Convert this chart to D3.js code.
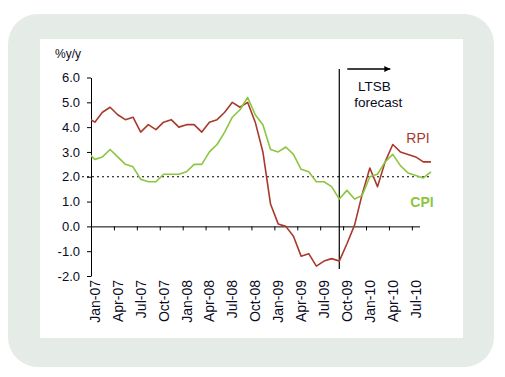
<!DOCTYPE html>
<html>
<head>
<meta charset="utf-8">
<script src="https://cdn.jsdelivr.net/npm/d3@7"></script>
<style>
  body { margin: 0; background: #fff; }
  text { font-family: "Liberation Sans", Arial, sans-serif; }
</style>
</head>
<body>
<svg id="chart"></svg>
<script>
// monthly data, Dec-06 .. Sep-10 (index -1 = Dec-06, 0 = Jan-07)
var months = ["Dec-06",
  "Jan-07","Feb-07","Mar-07","Apr-07","May-07","Jun-07","Jul-07","Aug-07","Sep-07","Oct-07","Nov-07","Dec-07",
  "Jan-08","Feb-08","Mar-08","Apr-08","May-08","Jun-08","Jul-08","Aug-08","Sep-08","Oct-08","Nov-08","Dec-08",
  "Jan-09","Feb-09","Mar-09","Apr-09","May-09","Jun-09","Jul-09","Aug-09","Sep-09","Oct-09","Nov-09","Dec-09",
  "Jan-10","Feb-10","Mar-10","Apr-10","May-10","Jun-10","Jul-10","Aug-10","Sep-10"];

var rpi = [4.4,
  4.2, 4.6, 4.8, 4.5, 4.3, 4.4, 3.8, 4.1, 3.9, 4.2, 4.3, 4.0,
  4.1, 4.1, 3.8, 4.2, 4.3, 4.6, 5.0, 4.8, 5.0, 4.2, 3.0, 0.9,
  0.1, 0.0, -0.4, -1.2, -1.1, -1.6, -1.4, -1.3, -1.4, -0.7, 0.05, 1.3,
  2.35, 1.6, 2.6, 3.3, 3.0, 2.9, 2.8, 2.6, 2.6];

var cpi = [3.0,
  2.7, 2.8, 3.1, 2.8, 2.5, 2.4, 1.9, 1.8, 1.8, 2.1, 2.1, 2.1,
  2.2, 2.5, 2.5, 3.0, 3.3, 3.8, 4.4, 4.7, 5.2, 4.5, 4.1, 3.1,
  3.0, 3.2, 2.9, 2.3, 2.2, 1.8, 1.8, 1.6, 1.1, 1.45, 1.1, 1.25,
  2.0, 2.1, 2.6, 2.9, 2.45, 2.15, 2.05, 1.95, 2.2];

var tickLabels = ["Jan-07","Apr-07","Jul-07","Oct-07","Jan-08","Apr-08","Jul-08","Oct-08",
  "Jan-09","Apr-09","Jul-09","Oct-09","Jan-10","Apr-10","Jul-10"];
var yTicks = [-2, -1, 0, 1, 2, 3, 4, 5, 6];
var target = 2.0;
var forecastStart = "Sep-09";

var W = 505, H = 377;
var svg = d3.select("#chart").attr("width", W).attr("height", H);

// frame
svg.append("rect").attr("x", 8).attr("y", 14).attr("width", 486).attr("height", 353)
  .attr("rx", 30).attr("fill", "#e5ebe7");
svg.append("rect").attr("x", 40).attr("y", 39).attr("width", 423).attr("height", 299)
  .attr("fill", "#fff");

// scales: month index 0 = start of Jan-07
var x = d3.scaleLinear().domain([0, 43]).range([91, 419.5]);
var y = d3.scaleLinear().domain([-2, 6]).range([276, 77.5]);
var mx = function (i) { return x(i - 1 + 0.5); }; // i = position in months array

var g = svg.append("g");

// y axis
var yAxis = d3.axisLeft(y).tickValues(yTicks).tickSize(4).tickSizeOuter(0).tickPadding(7)
  .tickFormat(function (d) { return d.toFixed(1); });
g.append("g").attr("transform", "translate(" + x(0) + ",0)").call(yAxis)
  .call(function (a) {
    a.selectAll("text").attr("font-size", 13).attr("fill", "#0a0a22").attr("font-family", "Liberation Sans, Arial");
    a.selectAll("line,path").attr("stroke", "#000");
  });

// zero line with quarterly ticks
var xAxis = d3.axisBottom(x).tickValues(d3.range(0, 43, 3)).tickSize(4).tickSizeOuter(0).tickFormat("");
g.append("g").attr("transform", "translate(0," + y(0) + ")").call(xAxis)
  .call(function (a) { a.selectAll("line,path").attr("stroke", "#000"); });

// rotated month labels below the plot
g.selectAll(".xlab").data(tickLabels).enter().append("text")
  .attr("class", "xlab")
  .attr("transform", function (d, i) { return "translate(" + x(i * 3 + 0.5) + ",280) rotate(-90)"; })
  .attr("dy", "0.36em")
  .attr("text-anchor", "end")
  .attr("font-size", 14)
  .attr("fill", "#0a0a22")
  .text(function (d) { return d; });

// 2% target line
g.append("line")
  .attr("x1", 82).attr("x2", mx(months.length - 1))
  .attr("y1", y(target)).attr("y2", y(target))
  .attr("stroke", "#000").attr("stroke-dasharray", "2,3");

// forecast divider and arrow
var fx = mx(months.indexOf(forecastStart));
g.append("line").attr("x1", fx).attr("x2", fx).attr("y1", 69).attr("y2", 269)
  .attr("stroke", "#000").attr("stroke-width", 1.2);
svg.append("defs").append("marker").attr("id", "arr")
  .attr("viewBox", "0 0 10 10").attr("refX", 10).attr("refY", 5)
  .attr("markerWidth", 7).attr("markerHeight", 6).attr("markerUnits", "userSpaceOnUse")
  .attr("orient", "auto")
  .append("path").attr("d", "M0,0L10,5L0,10z").attr("fill", "#000");
g.append("line").attr("x1", fx + 8).attr("x2", fx + 51).attr("y1", 69).attr("y2", 69)
  .attr("stroke", "#000").attr("stroke-width", 1.5).attr("marker-end", "url(#arr)");
g.append("text").attr("x", fx + 35).attr("y", 91).attr("text-anchor", "middle")
  .attr("font-size", 13.5).attr("fill", "#0a0a22").text("LTSB");
g.append("text").attr("x", fx + 39).attr("y", 107).attr("text-anchor", "middle")
  .attr("font-size", 13.5).attr("fill", "#0a0a22").text("forecast");

// lines, clipped at the y axis
svg.append("clipPath").attr("id", "plot").append("rect")
  .attr("x", x(0)).attr("y", 0).attr("width", W - x(0)).attr("height", H);

var line = d3.line().x(function (d, i) { return mx(i); }).y(function (d) { return y(d); });

var series = [
  { name: "RPI", values: rpi, color: "#a83a2b" },
  { name: "CPI", values: cpi, color: "#8cc540" }
];
g.append("g").attr("clip-path", "url(#plot)")
  .selectAll("path").data(series).enter().append("path")
  .attr("d", function (d) { return line(d.values); })
  .attr("fill", "none")
  .attr("stroke", function (d) { return d.color; })
  .attr("stroke-width", 1.6)
  .attr("stroke-linejoin", "round");

// series labels
g.append("text").attr("x", 418).attr("y", 143).attr("text-anchor", "middle")
  .attr("font-size", 14).attr("fill", "#a83a2b").text("RPI");
g.append("text").attr("x", 422).attr("y", 207).attr("text-anchor", "middle")
  .attr("font-size", 14).attr("font-weight", "bold").attr("fill", "#8cc540").text("CPI");

// unit label
g.append("text").attr("x", 55).attr("y", 58).attr("font-size", 12).attr("fill", "#0a0a22").text("%y/y");
</script>
</body>
</html>
